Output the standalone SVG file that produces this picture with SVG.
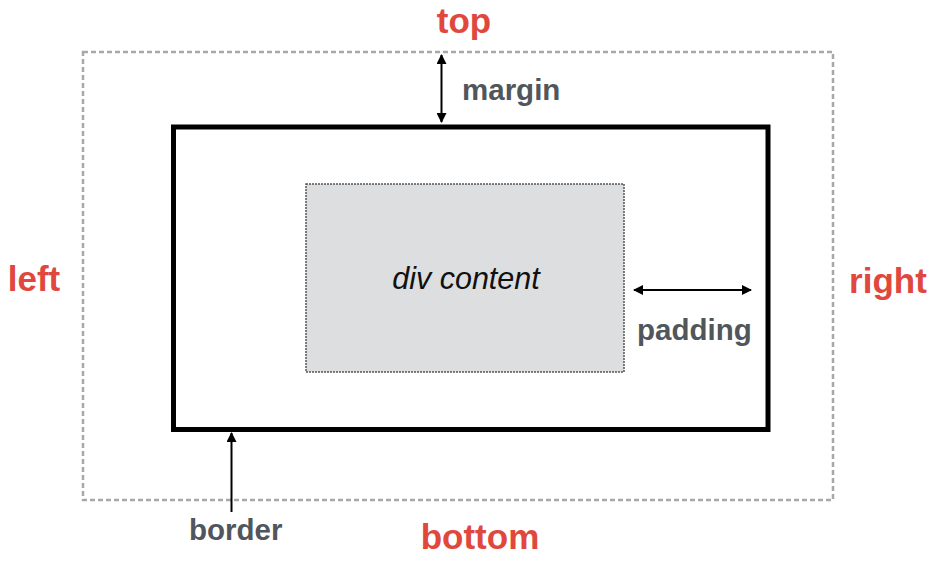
<svg xmlns="http://www.w3.org/2000/svg" width="945" height="569" viewBox="0 0 945 569">
<defs>
<marker id="ah" viewBox="0 0 10 10" refX="9" refY="5" markerWidth="10" markerHeight="10" markerUnits="userSpaceOnUse" orient="auto-start-reverse">
<path d="M0,0 L10,5 L0,10 z" fill="#000"/>
</marker>
<style>
.side{font-family:"Liberation Sans",Arial,sans-serif;font-weight:bold;font-size:35px;fill:#e0483e;text-anchor:middle}
.lbl{font-family:"Liberation Sans",Arial,sans-serif;font-weight:bold;font-size:29.5px;fill:#51565c}
.conn{stroke:#000;stroke-width:2;fill:none}
</style>
</defs>
<rect width="945" height="569" fill="#fff"/>
<g id="margin-box">
<rect x="83" y="52" width="750" height="448" fill="none" stroke="#a8a8a8" stroke-width="2.5" stroke-dasharray="5,3"/>
</g>
<g id="border-box">
<rect x="173.5" y="127" width="594.5" height="302.5" fill="none" stroke="#000" stroke-width="5"/>
</g>
<g id="content-box">
<rect x="306" y="184" width="318" height="188" fill="#dddee0" stroke="#555" stroke-width="1.5" stroke-dasharray="2,1"/>
<text x="466" y="289" font-family="'Liberation Sans',Arial,sans-serif" font-style="italic" font-size="30.5" fill="#111" text-anchor="middle">div content</text>
</g>
<g id="labels">
<text class="side" x="464" y="33">top</text>
<text class="side" x="34" y="291">left</text>
<text class="side" x="888" y="293">right</text>
<text class="side" x="480" y="549">bottom</text>
<text class="lbl" x="462" y="100">margin</text>
<text class="lbl" x="637" y="340">padding</text>
<text class="lbl" x="189" y="540">border</text>
</g>
<g id="connectors">
<line class="conn" x1="441.5" y1="55" x2="441.5" y2="122" marker-start="url(#ah)" marker-end="url(#ah)"/>
<line class="conn" x1="634" y1="290" x2="751" y2="290" marker-start="url(#ah)" marker-end="url(#ah)"/>
<line class="conn" x1="231.5" y1="512" x2="231.5" y2="433" marker-end="url(#ah)"/>
</g>
</svg>
